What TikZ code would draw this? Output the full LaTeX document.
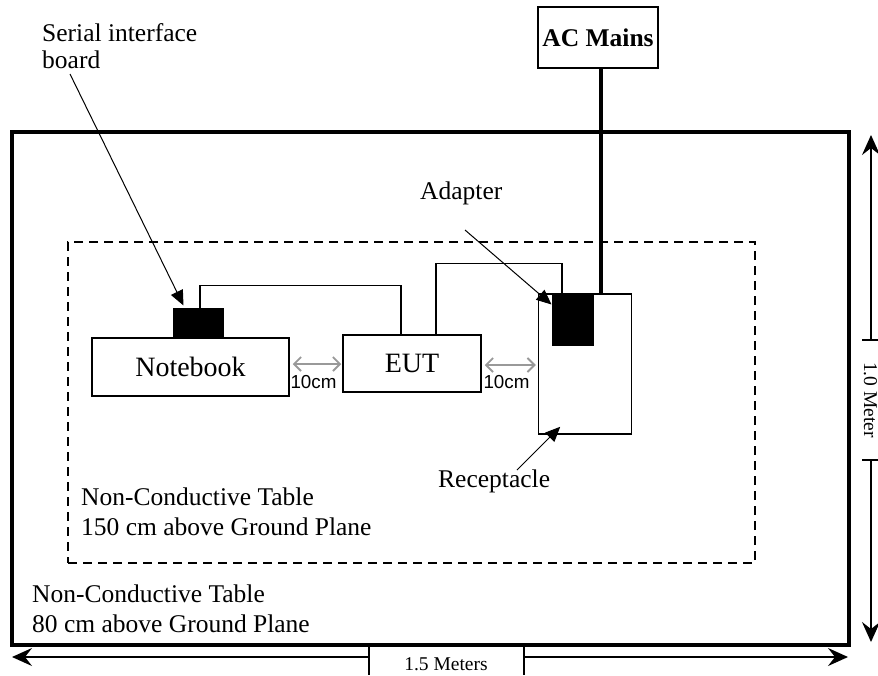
\documentclass[tikz,border=0pt]{standalone}
\usepackage{fontspec}
\setmainfont{Liberation Serif}
\newfontfamily\arialfam{Liberation Sans}
\usetikzlibrary{arrows.meta}
\newcommand\fbigtxt{\fontsize{28}{32}\selectfont}
\newcommand\flabtxt{\fontsize{25.5}{30}\selectfont}
\newcommand\fdimtxt{\fontsize{19.5}{23}\selectfont}
\newcommand\fcmtxt{\arialfam\fontsize{18.8}{22}\selectfont}
\begin{document}
\begin{tikzpicture}[x=1pt,y=-1pt,
  boxline/.style={draw,line width=1.5pt,inner sep=0pt},
  blackbox/.style={draw,fill=black,line width=1pt,inner sep=0pt},
  labtxt/.style={inner sep=0pt,font=\flabtxt},
  labarrow/.style={line width=1pt,-{Triangle[length=15pt,width=13pt]}},
  gaparrow/.style={draw=black!40,line width=1.8pt,{Straight Barb[length=7pt,width=14pt]}-{Straight Barb[length=7pt,width=14pt]}},
  dimline/.style={line width=1.5pt},
  dimarrow/.style={line width=1.5pt,-{Stealth[length=20pt,width=18pt,inset=7pt]}},
  mainsline/.style={line width=4.5pt}
]
\useasboundingbox (0,0) rectangle (878,675);

% tables
\node[draw,line width=3.5pt,inner sep=0pt,minimum width=837pt,minimum height=513pt] (outer) at (430.5,388.5) {};
\node[draw,line width=2.5pt,dash pattern=on 9pt off 6pt,inner sep=0pt,minimum width=687pt,minimum height=321pt] (inner) at (411.5,402.5) {};

% equipment
\node[boxline,minimum width=120pt,minimum height=61pt,font=\flabtxt\bfseries] (acm) at (598,37.5) {AC Mains};
\node[boxline,fill=white,minimum width=93pt,minimum height=140pt] (recp) at (585,364) {};
\node[blackbox,minimum width=41pt,minimum height=51pt] (adp) at (572.5,319.5) {};
\node[boxline,minimum width=197pt,minimum height=58pt,font=\fbigtxt] (nb) at (190.5,367) {Notebook};
\node[blackbox,minimum width=50pt,minimum height=30pt] (sib) at (198,323) {};
\node[boxline,minimum width=138pt,minimum height=57pt,font=\fbigtxt] (eut) at (412,363.5) {EUT};

% cables
\draw[line width=1.5pt] ([xshift=2pt]sib.north) -- ++(0,-22) -| ([xshift=-11pt]eut.north);
\draw[line width=1.5pt] ([xshift=24pt]eut.north) -- ++(0,-71) -| ([xshift=-10.5pt]adp.north);
\draw[mainsline] ([xshift=3pt]acm.south) -- ([xshift=3pt]acm.south |- recp.north);

% spacing arrows
\draw[gaparrow] ([xshift=3pt,yshift=3pt]nb.east) -- ([xshift=-1pt,yshift=-0.5pt]eut.west);
\draw[gaparrow] ([xshift=3pt,yshift=-1.5pt]eut.east) -- ([xshift=-2pt,yshift=-1pt]recp.west);
\node[inner sep=0pt,font=\fcmtxt] (cm1) at (313.5,382) {10cm};
\node[inner sep=0pt,font=\fcmtxt] (cm2) at (506.5,382) {10cm};

% labels
\node[labtxt,anchor=base west,align=left] (sil) at (42,68) {Serial interface\\[-3pt]board};
\node[labtxt,anchor=base west] (adl) at (420,199) {Adapter};
\node[labtxt,anchor=base west] (rl) at (438,487) {Receptacle};
\node[labtxt,anchor=base west,align=left] (itl) at (81,535) {Non-Conductive Table\\150 cm above Ground Plane};
\node[labtxt,anchor=base west,align=left] (otl) at (32,632) {Non-Conductive Table\\80 cm above Ground Plane};

\draw[labarrow] ([xshift=28pt,yshift=-6pt]sil.base west) -- ([xshift=11pt,yshift=2pt]sib.north west);
\draw[labarrow] ([xshift=45pt,yshift=-31pt]adl.base west) -- ([yshift=15pt]adp.west);
\draw[labarrow] ([xshift=79pt,yshift=17pt]rl.base west) -- ([xshift=22.5pt,yshift=8pt]recp.south west);

% dimensions
\coordinate (bl) at (12,657);
\coordinate (br) at (848,657);
\coordinate (bt1) at (369,657);
\coordinate (bt2) at (524,657);
\draw[dimarrow] (bt1) -- (bl);
\draw[dimarrow] (bt2) -- (br);
\draw[dimline] ([yshift=12pt]bt1) -- ([yshift=-18pt]bt1);
\draw[dimline] ([yshift=12pt]bt2) -- ([yshift=-18pt]bt2);
\node[inner sep=0pt,font=\fdimtxt] (wdim) at (446,664) {1.5 Meters};

\coordinate (rt) at (871,135);
\coordinate (rb) at (871,642);
\coordinate (rt1) at (871,340);
\coordinate (rt2) at (871,460);
\draw[dimarrow] (rt1) -- (rt);
\draw[dimarrow] (rt2) -- (rb);
\draw[dimline] ([xshift=-9pt]rt1) -- ([xshift=9pt]rt1);
\draw[dimline] ([xshift=-9pt]rt2) -- ([xshift=9pt]rt2);
\node[inner sep=0pt,font=\fdimtxt,rotate=-90,anchor=base] (hdim) at (864,400) {1.0 Meter};
\end{tikzpicture}
\end{document}
